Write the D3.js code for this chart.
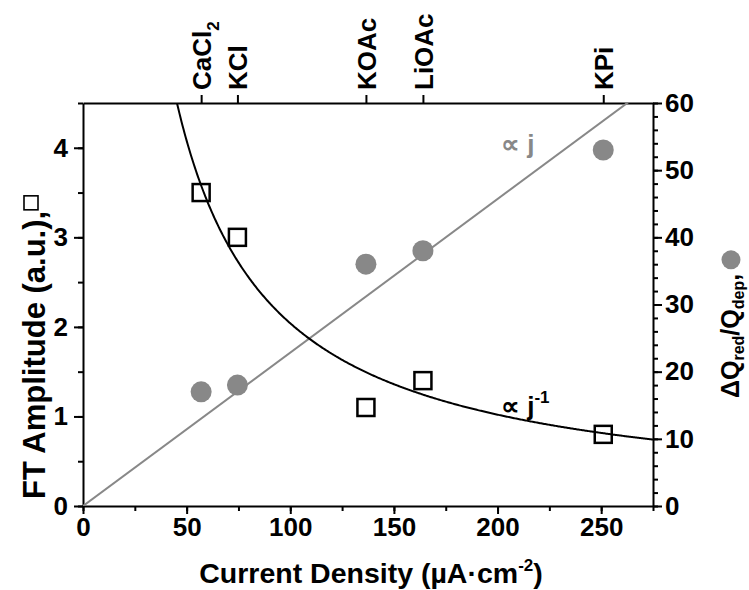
<!DOCTYPE html>
<html><head><meta charset="utf-8">
<script src="https://cdn.jsdelivr.net/npm/d3@7"></script>
<style>body{margin:0;background:#fff}svg{display:block}text{font-family:"Liberation Sans",Arial,sans-serif;font-weight:bold}</style>
</head><body><svg id="c" width="749" height="590"></svg>
<script>
const salts = ["CaCl2","KCl","KOAc","LiOAc","KPi"];
const currentDensity = [57, 74.5, 136.5, 164, 251];
const ftAmplitude = [3.5, 3.0, 1.1, 1.4, 0.8];
const chargeRatio = [17, 18, 36, 38, 53];
const xTicks = [0,50,100,150,200,250];
const leftTicks = [0,1,2,3,4];
const rightTicks = [0,10,20,30,40,50,60];
const linearSlope = 0.2285;   // ∝ j  (right axis units per µA·cm-2)
const inverseK = 204;         // ∝ 1/j (left axis units × µA·cm-2)

const svg = d3.select("#c");
const M = {l:83, r:653, t:103, b:506};
const x = d3.scaleLinear().domain([0,275]).range([M.l,M.r]);
const yL = d3.scaleLinear().domain([0,4.5]).range([M.b,M.t]);
const yR = d3.scaleLinear().domain([0,60]).range([M.b,M.t]);
const TF = "26px";

svg.append("defs").append("clipPath").attr("id","clip").append("rect")
  .attr("x",M.l).attr("y",M.t).attr("width",M.r-M.l).attr("height",M.b-M.t);

const tickStyle = g => { g.selectAll("path,line").attr("stroke","#000").attr("stroke-width",2);
  g.selectAll("text").attr("fill","#000").style("font-size",TF); };

// minor ticks
const gxm = svg.append("g").attr("transform",`translate(0,${M.b})`)
  .call(d3.axisBottom(x).tickValues(d3.range(0,276,25)).tickSize(5).tickFormat("")).call(tickStyle);
gxm.select(".domain").remove();
const gx = svg.append("g").attr("transform",`translate(0,${M.b})`)
  .call(d3.axisBottom(x).tickValues(xTicks).tickSize(8).tickPadding(4).tickSizeOuter(0).tickFormat(d3.format("d"))).call(tickStyle);

const glm = svg.append("g").attr("transform",`translate(${M.l},0)`)
  .call(d3.axisLeft(yL).tickValues(d3.range(0,4.51,0.5)).tickSize(5).tickFormat("")).call(tickStyle);
glm.select(".domain").remove();
const gl = svg.append("g").attr("transform",`translate(${M.l},0)`)
  .call(d3.axisLeft(yL).tickValues(leftTicks).tickSize(9).tickPadding(6).tickSizeOuter(0).tickFormat(d3.format("d"))).call(tickStyle);

const grm = svg.append("g").attr("transform",`translate(${M.r},0)`)
  .call(d3.axisRight(yR).tickValues(d3.range(0,61,2)).tickSize(5).tickFormat("")).call(tickStyle);
grm.select(".domain").remove();
const gr = svg.append("g").attr("transform",`translate(${M.r},0)`)
  .call(d3.axisRight(yR).tickValues(rightTicks).tickSize(9).tickPadding(3).tickSizeOuter(0).tickFormat(d3.format("d"))).call(tickStyle);

const gt = svg.append("g").attr("transform",`translate(0,${M.t})`)
  .call(d3.axisTop(x).tickValues(currentDensity).tickSize(8).tickSizeOuter(0).tickFormat("")).call(tickStyle);
gt.selectAll(".tick").append("text")
  .attr("transform","rotate(-90)").attr("x",13).attr("dy","0.36em")
  .attr("text-anchor","start").style("font-size",TF).attr("fill","#000")
  .each(function(d,i){
    const s = salts[i]; const t = d3.select(this);
    if (s==="CaCl2"){ t.append("tspan").text("CaCl"); t.append("tspan").text("2").attr("dy","8").style("font-size","17px"); }
    else t.text(s);
  });

const plot = svg.append("g").attr("clip-path","url(#clip)");
// ∝ j line
plot.append("line").attr("x1",x(0)).attr("y1",yR(0)).attr("x2",x(275)).attr("y2",yR(275*linearSlope))
  .attr("stroke","#888").attr("stroke-width",2);
// ∝ 1/j curve
const xs = d3.range(40,275.5,0.5);
plot.append("path").datum(xs)
  .attr("d",d3.line().x(d=>x(d)).y(d=>yL(inverseK/d)))
  .attr("fill","none").attr("stroke","#000").attr("stroke-width",2);

// circles
svg.append("g").selectAll("circle").data(currentDensity).join("circle")
  .attr("cx",d=>x(d)).attr("cy",(d,i)=>yR(chargeRatio[i])).attr("r",10.5).attr("fill","#888");
// squares
const sq = 17;
svg.append("g").selectAll("rect").data(currentDensity).join("rect")
  .attr("x",d=>x(d)-sq/2).attr("y",(d,i)=>yL(ftAmplitude[i])-sq/2).attr("width",sq).attr("height",sq)
  .attr("fill","none").attr("stroke","#000").attr("stroke-width",2.5);

// annotations
const a1 = svg.append("text").attr("x",501).attr("y",153).attr("fill","#888").style("font-size","26px");
a1.append("tspan").text("∝ j");
const a2 = svg.append("text").attr("x",501).attr("y",415).attr("fill","#000").style("font-size","26px");
a2.append("tspan").text("∝ j");
a2.append("tspan").text("-1").attr("dy",-12).style("font-size","17px");

// axis titles
svg.append("text").attr("x",371).attr("y",583).attr("text-anchor","middle").style("font-size","28.5px")
  .call(t=>{ t.append("tspan").text("Current Density (µA·cm");
             t.append("tspan").text("-2").attr("dy",-12).style("font-size","17px");
             t.append("tspan").text(")").attr("dy",12); });

const lt = svg.append("text").attr("transform","translate(45,499) rotate(-90)").style("font-size","31px")
  .text("FT Amplitude (a.u.), ");
const ltLen = lt.node().getComputedTextLength();
svg.append("rect").attr("x",45-21).attr("y",499-ltLen-15).attr("width",14).attr("height",14)
  .attr("fill","none").attr("stroke","#000").attr("stroke-width",1.6);

const rt = svg.append("text").attr("transform","translate(739,398) rotate(-90)").style("font-size","25px");
rt.append("tspan").text("ΔQ");
rt.append("tspan").text("red").attr("dy",5).style("font-size","16px");
rt.append("tspan").text("/Q").attr("dy",-5);
rt.append("tspan").text("dep").attr("dy",5).style("font-size","16px");
rt.append("tspan").text(",").attr("dy",-5);
const rtLen = rt.node().getComputedTextLength();
svg.append("circle").attr("cx",731).attr("cy",398-rtLen-14).attr("r",9.5).attr("fill","#888");
</script></body></html>
